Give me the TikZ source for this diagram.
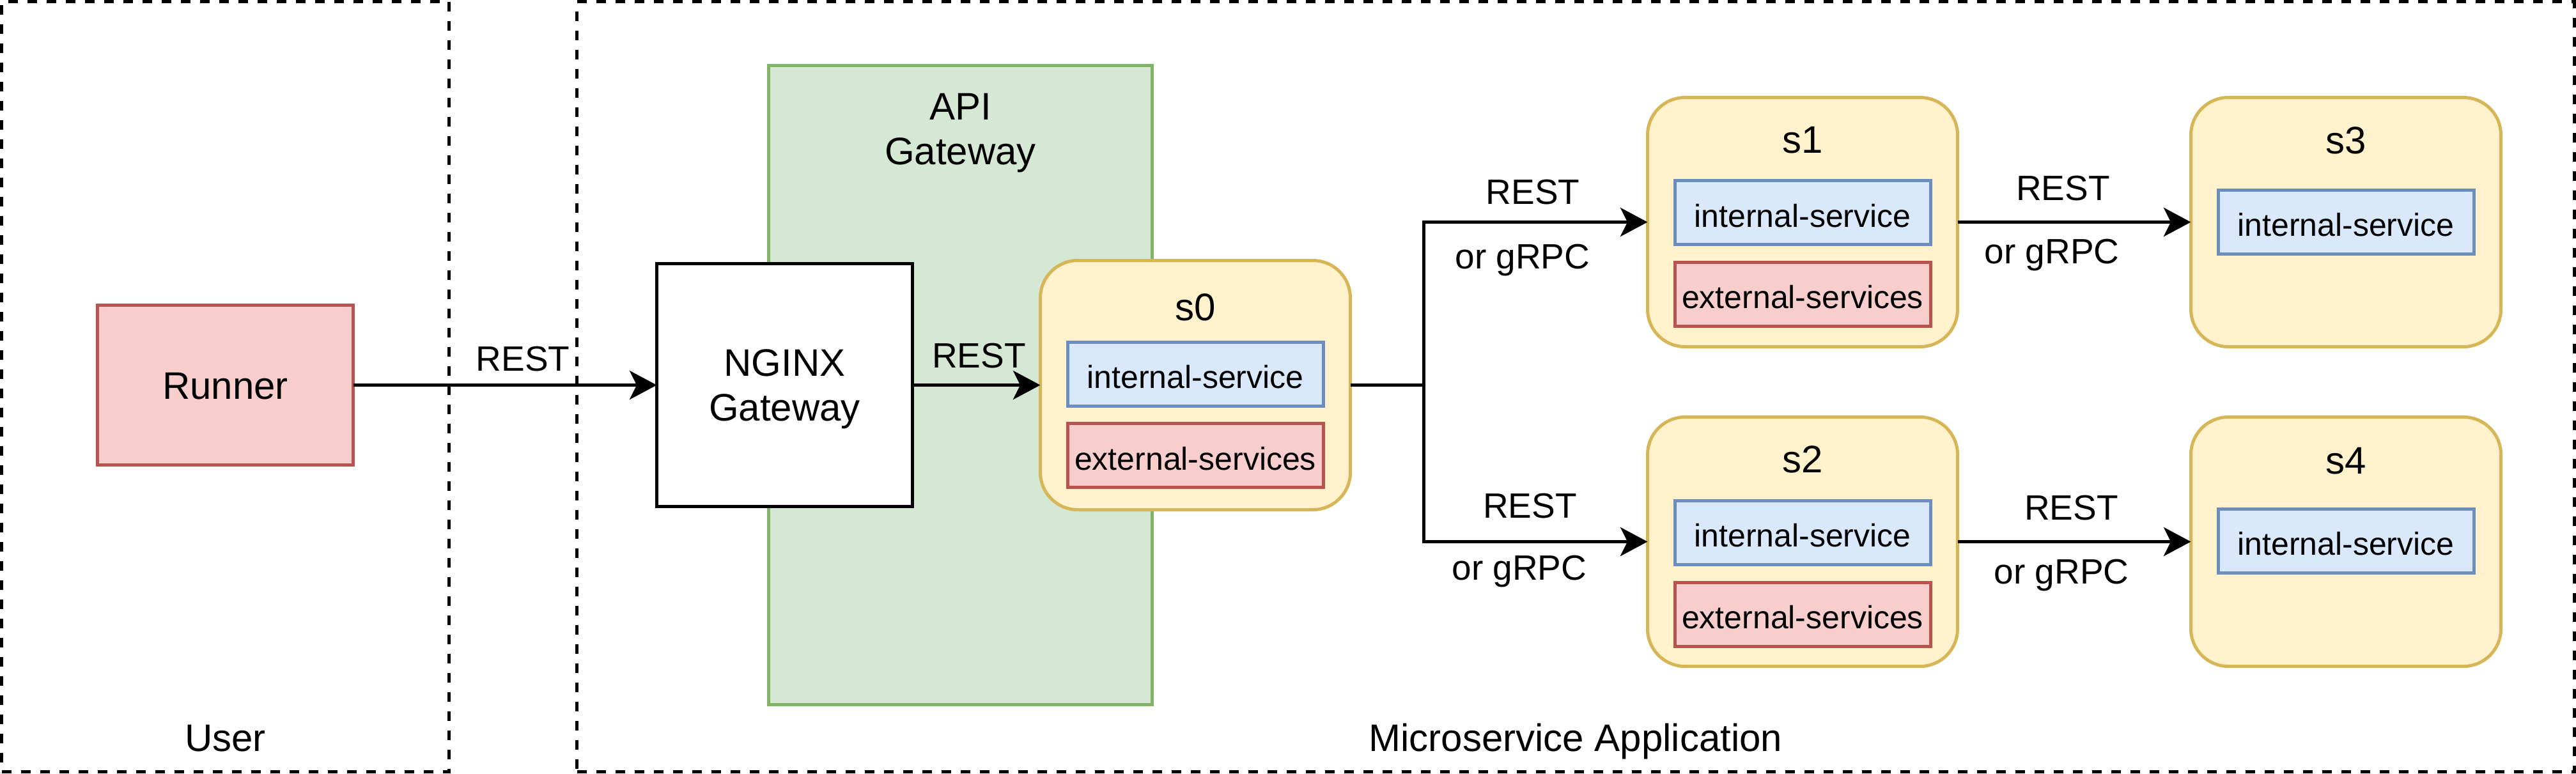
\documentclass[tikz,border=0pt]{standalone}
\usepackage{fontspec}
\setmainfont{Liberation Sans}
\usetikzlibrary{arrows.meta}
\definecolor{redfill}{HTML}{F8CECC}
\definecolor{redline}{HTML}{B85450}
\definecolor{greenfill}{HTML}{D5E8D4}
\definecolor{greenline}{HTML}{82B366}
\definecolor{yellowfill}{HTML}{FFF2CC}
\definecolor{yellowline}{HTML}{D6B656}
\definecolor{bluefill}{HTML}{DAE8FC}
\definecolor{blueline}{HTML}{6C8EBF}
\newcommand\myfontL{\fontsize{12}{13.9}\selectfont}
\newcommand\myfontM{\fontsize{11}{13.2}\selectfont}
\newcommand\myfontS{\fontsize{10}{12}\selectfont}
\begin{document}
\begin{tikzpicture}[x=1pt,y=-1pt,
  every node/.style={inner sep=0pt, outer sep=0pt},
  cont/.style={draw=black, line width=1pt, dash pattern=on 3pt off 3pt, rectangle},
  runnerbox/.style={draw=redline, fill=redfill, line width=1pt, minimum width=80pt, minimum height=50pt, font=\myfontL, text height=8.8pt, text depth=0pt},
  gwbox/.style={draw=greenline, fill=greenfill, line width=1pt, minimum width=120pt, minimum height=200pt},
  plainbox/.style={draw=black, fill=white, line width=1pt, minimum width=80pt, minimum height=76pt},
  svc/.style={draw=yellowline, fill=yellowfill, line width=1pt, rounded corners=11.7pt, minimum width=97pt, minimum height=78pt},
  intbox/.style={draw=blueline, fill=bluefill, line width=1pt, minimum width=80pt, minimum height=20pt, font=\myfontS, text height=9pt, text depth=0pt},
  extbox/.style={draw=redline, fill=redfill, line width=1pt, minimum width=80pt, minimum height=20pt, font=\myfontS, text height=9pt, text depth=0pt},
  title/.style={font=\myfontL, anchor=base},
  twoline/.style={font=\myfontL, align=center},
  elabel/.style={font=\myfontM, anchor=base},
  conn/.style={draw=black, line width=1pt},
  arr/.style={conn, -{Stealth[length=8.5pt,width=9pt,inset=2.2pt]}}
]
\useasboundingbox (0,0) rectangle (806,242);

% containers
\node[cont, minimum width=140pt, minimum height=241pt] (user) at (70.5,121) {};
\node[cont, minimum width=625pt, minimum height=241pt] (msapp) at (493,121) {};
\node[title] (userlbl) at (70.5,235) {User};
\node[title] (mslbl) at (493,235) {Microservice Application};

% API gateway
\node[gwbox] (apigw) at (300.5,120.5) {};
\node[twoline] (apilbl) at (300.5,41.6) {API\\Gateway};

% runner and nginx
\node[runnerbox] (runner) at (70.5,120.5) {Runner};
\node[plainbox] (nginx) at (245.5,120.5) {};
\node[twoline] (nginxlbl) at (245.5,121.75) {NGINX\\Gateway};

% services
\node[svc] (s0) at (374,120.5) {};
\node[title] (s0t) at (374,100.2) {s0};
\node[intbox] (s0i) at (374,117) {internal-service};
\node[extbox] (s0e) at (374,142.5) {external-services};

\node[svc] (s1) at (564,69.5) {};
\node[title] (s1t) at (564,47.8) {s1};
\node[intbox] (s1i) at (564,66.5) {internal-service};
\node[extbox] (s1e) at (564,92) {external-services};

\node[svc] (s2) at (564,169.5) {};
\node[title] (s2t) at (564,147.8) {s2};
\node[intbox] (s2i) at (564,166.6) {internal-service};
\node[extbox] (s2e) at (564,192.2) {external-services};

\node[svc] (s3) at (734,69.5) {};
\node[title] (s3t) at (734,48) {s3};
\node[intbox] (s3i) at (734,69.4) {internal-service};

\node[svc] (s4) at (734,169.5) {};
\node[title] (s4t) at (734,148.2) {s4};
\node[intbox] (s4i) at (734,169.2) {internal-service};

% connectors
\coordinate (j) at (445.4,120.5);
\draw[arr] (runner.east) -- (nginx.west);
\draw[arr] (nginx.east) -- (s0.west);
\draw[arr] (s0.east) -- (j) |- (s1.west);
\draw[arr] (j) |- (s2.west);
\draw[arr] (s1.east) -- (s3.west);
\draw[arr] (s2.east) -- (s4.west);

% edge labels
\node[elabel] (l1) at (163.6,116) {REST};
\node[elabel] (l2) at (306.3,115) {REST};
\node[elabel] (l3a) at (479.6,63.9) {REST};
\node[elabel] (l3b) at (476.4,84) {or gRPC};
\node[elabel] (l4a) at (478.7,162) {REST};
\node[elabel] (l4b) at (475.4,181.5) {or gRPC};
\node[elabel] (l5a) at (645.5,62.7) {REST};
\node[elabel] (l5b) at (642,82.5) {or gRPC};
\node[elabel] (l6a) at (648.1,162.6) {REST};
\node[elabel] (l6b) at (645,182.6) {or gRPC};
\end{tikzpicture}
\end{document}
